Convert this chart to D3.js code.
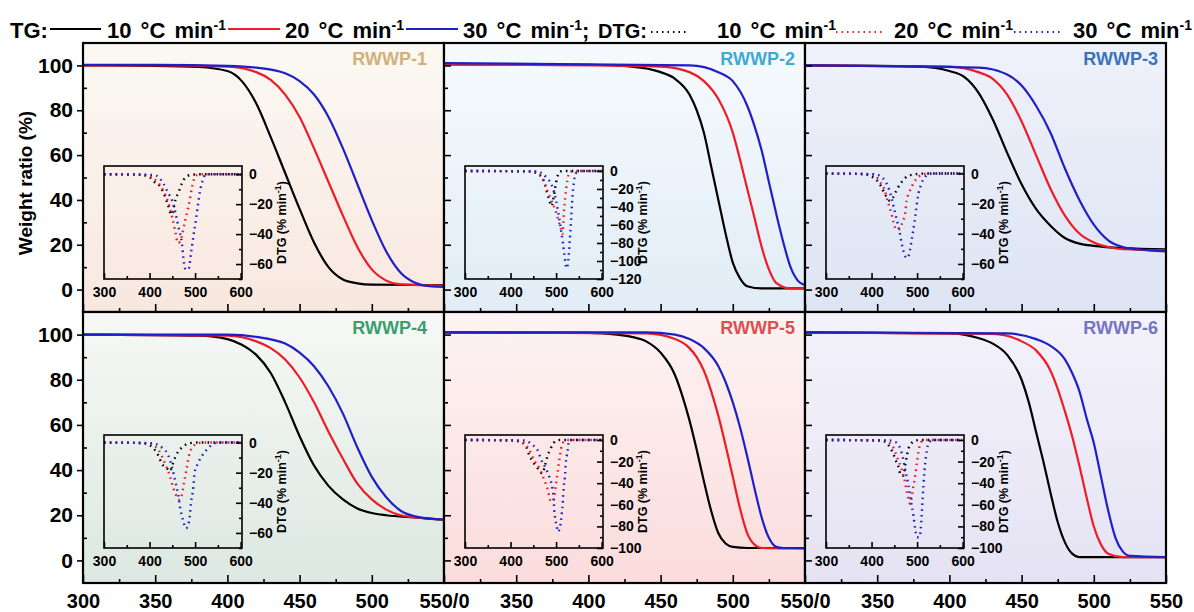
<!DOCTYPE html>
<html><head><meta charset="utf-8">
<script src="https://cdn.jsdelivr.net/npm/d3@7"></script>
<style>
body{margin:0;background:#fff}
text{font-family:"Liberation Sans",Arial,sans-serif;font-weight:bold;fill:#000}
</style></head>
<body><svg id="c" width="1194" height="612"></svg>
<script>
// ---------------- DATA ----------------
const panelNames = ["RWWP-1","RWWP-2","RWWP-3","RWWP-4","RWWP-5","RWWP-6"];
const rateLabels = ["10","20","30"];
const xTicks = [300,350,400,450,500,550];
const xMinorTicks = [325,375,425,475,525];
const yTicks = [0,20,40,60,80,100];
const yMinorTicks = [10,30,50,70,90];
const insetXTicks = [300,400,500,600];
const insetXMinor = [350,450,550];

// TG curves (temperature °C, weight %)
const tg1_10 = [[300,100],[350,99.8],[380,99.3],[400,97.5],[410,93],[420,83],[430,68],[440,52],[450,36],[460,21],[470,10],[480,4.5],[490,2.8],[500,2.2],[550,2]];
const tg1_20 = [[300,100],[350,100],[400,99.5],[420,97],[430,93.5],[440,87],[450,77],[460,63],[470,48],[480,33],[490,19],[500,9],[510,4],[520,2.3],[550,1.8]];
const tg1_30 = [[300,100.2],[350,100.2],[400,99.8],[420,99],[440,96.5],[450,93],[460,87],[470,77],[480,63],[490,47],[500,31],[510,17],[520,7.5],[530,3],[540,1.5],[550,1.2]];

const tg2_10 = [[300,100.5],[400,100.3],[430,99.5],[450,97],[460,94],[470,87],[475,80],[480,70],[485,55],[490,40],[495,25],[500,12],[505,5],[510,1.5],[520,0.5],[550,0.5]];
const tg2_20 = [[300,100.5],[450,99.5],[470,97],[480,93],[490,85],[500,70],[505,58],[510,45],[515,32],[520,19],[525,9],[530,3],[540,0.5],[550,0.5]];
const tg2_30 = [[300,101],[470,100],[490,97],[500,93],[510,82],[515,73],[520,62],[525,48],[530,34],[535,21],[540,10],[545,4],[550,2]];

const tg3_10 = [[300,100],[380,99.5],[400,97.5],[410,95],[420,88],[430,76],[440,61],[450,47],[460,36],[470,28.5],[480,23],[490,20.5],[500,19.5],[520,18.5],[550,18]];
const tg3_20 = [[300,100],[400,99.5],[420,97],[430,94],[440,87],[450,75],[460,60],[470,45],[480,33],[490,25],[500,21],[510,19],[520,18],[550,17.5]];
const tg3_30 = [[300,100],[420,99],[440,96],[450,91],[460,82],[470,70],[480,54],[490,40],[500,29],[510,22],[520,19],[530,18],[550,17]];

const tg4_10 = [[300,100],[380,99.5],[400,98],[410,95.5],[420,91],[430,83],[440,70],[450,55],[460,42],[470,33],[480,27],[490,23],[500,21],[510,20],[530,19],[550,18]];
const tg4_20 = [[300,100],[400,99.5],[420,97],[430,94],[440,89],[450,81],[460,70],[470,57],[480,45],[490,34],[500,27],[510,22.5],[520,20],[530,19],[550,18]];
const tg4_30 = [[300,100],[400,100],[420,99],[440,96],[450,92],[460,86],[470,77],[480,65],[490,50],[500,37],[510,28],[520,22],[530,19.5],[540,18.5],[550,18]];

const tg5_10 = [[300,101],[400,100.8],[420,100],[430,99],[440,97],[450,92],[460,82],[465,73],[470,62],[475,49],[480,35],[485,22],[490,12],[495,7.5],[500,6],[510,5.5],[550,5.5]];
const tg5_20 = [[300,101],[440,100.5],[460,98],[470,94],[475,90],[480,84],[485,75],[490,64],[495,51],[500,37],[505,23],[510,12],[515,7],[520,5.5],[550,5.2]];
const tg5_30 = [[300,101],[440,101],[460,100],[470,98],[480,94],[490,86],[495,79],[500,70],[505,59],[510,46],[515,32],[520,19],[525,10],[530,6],[535,5.5],[550,5.5]];

const tg6_10 = [[300,101],[400,100.5],[410,100],[420,98.5],[430,96],[440,91],[450,80],[455,70],[460,57],[465,44],[470,30],[475,17],[480,8],[485,3],[490,1.5],[550,1.5]];
const tg6_20 = [[300,101],[430,100.3],[450,97],[460,93],[470,84],[475,76],[480,66],[485,55],[490,42],[495,28],[500,15],[505,7],[510,3],[520,1.5],[550,1.5]];
const tg6_30 = [[300,101],[440,100.5],[460,98],[470,95],[480,89],[485,83],[490,75],[495,63],[500,52],[505,37],[510,22],[515,10],[520,4],[525,2],[550,1.5]];

// DTG curves (temperature °C, % min-1)
const dtg1_10 = [[300,0],[380,-0.3],[400,-2],[410,-5],[420,-7],[430,-12],[440,-20],[448,-27],[452,-24],[457,-17],[464,-12],[471,-6],[478,-2.5],[490,-0.5],[510,0],[600,0]];
const dtg1_20 = [[300,0],[390,-0.5],[410,-3],[420,-6],[430,-11],[440,-18],[450,-29],[457,-39],[462,-46],[467,-45],[471,-41],[478,-31],[482,-26],[488,-18],[493,-9],[498,-3],[505,-0.5],[520,0],[600,0]];
const dtg1_30 = [[300,0],[410,-0.5],[420,-2],[430,-6],[440,-12],[450,-18],[457,-26],[464,-36],[471,-46],[475,-58],[480,-64],[486,-63],[491,-53],[496,-42],[502,-30],[506,-21],[511,-11],[517,-4],[522,-0.5],[530,0],[600,0]];

const dtg2_10 = [[300,0],[440,-0.5],[455,-2],[465,-5],[470,-8],[475,-14],[480,-24],[485,-32],[490,-39],[495,-28],[500,-13],[505,-3],[510,-0.5],[520,0],[600,0]];
const dtg2_20 = [[300,0],[450,-0.5],[460,-2],[470,-8],[480,-21],[490,-33],[500,-46],[505,-55],[510,-63],[514,-70],[517,-47],[520,-30],[525,-10],[530,-1],[540,0],[600,0]];
const dtg2_30 = [[300,0],[460,-0.5],[470,-3],[480,-8],[490,-15],[500,-33],[505,-47],[510,-63],[515,-80],[520,-100],[523,-108],[527,-98],[530,-78],[533,-55],[536,-28],[539,-13],[543,-3],[550,0],[600,0]];

const dtg3_10 = [[300,0],[380,-0.3],[400,-2],[410,-4],[420,-8],[430,-14],[440,-18],[447,-16],[454,-11.6],[465,-6],[479,-1.8],[495,-0.5],[520,0],[600,0]];
const dtg3_20 = [[300,0],[400,-0.5],[410,-2],[417,-5],[428,-10.5],[435,-18],[443,-26],[448,-32],[454,-37],[461,-37],[468,-32],[474,-26],[477,-18],[483,-12.5],[493,-6],[504,-2],[515,-0.3],[530,0],[600,0]];
const dtg3_30 = [[300,0],[410,-0.5],[420,-2],[432,-6],[440,-12],[446,-19],[454,-29],[461,-38],[468,-49],[474,-55],[479,-56],[483,-53],[488,-44],[494,-33],[497,-26],[502,-15],[508,-8],[517,-2.6],[526,-0.3],[540,0],[600,0]];

const dtg4_10 = [[300,0],[380,-0.3],[394,-1],[409,-4],[420,-9],[427,-14],[438,-17],[445,-19],[450,-15],[456,-10],[463,-6],[474,-2.6],[488,-0.4],[510,0],[600,0]];
const dtg4_20 = [[300,0],[400,-0.5],[410,-2],[420,-5],[434,-14],[445,-22.5],[452,-30],[460,-36],[466,-38],[470,-36],[476,-26],[481,-18],[488,-7],[499,-1.6],[510,-0.2],[520,0],[600,0]];
const dtg4_30 = [[300,0],[410,-0.5],[420,-2],[430,-4],[441,-8.4],[449,-16],[456,-25],[463,-35],[467,-43],[474,-52],[480,-57],[487,-52],[491,-40],[496,-30],[499,-20],[506,-14],[517,-8],[528,-4],[543,-0.4],[560,0],[600,0]];

const dtg5_10 = [[300,0],[400,-0.3],[420,-1.5],[434,-6],[441,-14],[452,-22],[463,-28],[470,-31],[476,-23],[481,-15],[488,-8],[499,-1],[510,0],[600,0]];
const dtg5_20 = [[300,0],[410,-0.5],[420,-1],[430,-3],[441,-9],[452,-19],[463,-26],[474,-37],[481,-45],[488,-56],[494,-57],[499,-43],[503,-31],[507,-19],[512,-6],[517,-1.5],[525,0],[600,0]];
const dtg5_30 = [[300,0],[430,-0.5],[440,-2],[448,-4.6],[459,-9],[466,-17],[477,-26],[485,-34],[492,-45],[494,-51],[496,-65],[498,-73],[501,-79],[504,-85],[508,-82],[512,-70],[515,-56],[517,-43],[520,-31],[521,-23],[525,-11],[528,-1.5],[535,0],[600,0]];

const dtg6_10 = [[300,0],[420,-0.5],[431,-2],[442,-8],[449,-14],[454,-20],[460,-26],[464,-33],[470,-33],[474,-23],[478,-14],[481,-8],[492,-1.5],[505,0],[600,0]];
const dtg6_20 = [[300,0],[430,-0.5],[440,-3],[449,-8],[456,-16],[466,-27],[471,-34],[476,-45],[480,-53],[485,-59],[491,-45],[496,-33],[500,-20],[503,-11],[510,-1.5],[520,0],[600,0]];
const dtg6_30 = [[300,0],[440,-0.5],[450,-1.5],[456,-3],[464,-9],[469,-17],[474,-28],[481,-42],[487,-58],[492,-70],[496,-83],[500,-90],[505,-90],[508,-83],[510,-70],[512,-56],[514,-42],[516,-30],[519,-17],[523,-6],[528,-1.5],[535,0],[600,0]];

const insetYDomains = [[-70,5.5],[-120,5.5],[-70,5],[-70,5],[-100,4.6],[-100,4.6]];
const insetYTicks = [[0,-20,-40,-60],[0,-20,-40,-60,-80,-100,-120],[0,-20,-40,-60],[0,-20,-40,-60],[0,-20,-40,-60,-80,-100],[0,-20,-40,-60,-80,-100]];
const insetYMinor = [[-10,-30,-50,-70],[-10,-30,-50,-70,-90,-110],[-10,-30,-50,-70],[-10,-30,-50,-70],[-10,-30,-50,-70,-90],[-10,-30,-50,-70,-90]];

// ---------------- STYLE ----------------
const seriesColors = ["#000000","#ee1c25","#1f1fc8"];
const titleColors = ["#d2b07a","#3eaad4","#3a72bd","#3a9e6e","#df4f4f","#7674c6"];
const bgTop = ["#fbf9f3","#f6fafd","#eff1fa","#f7f8f6","#fdf3f3","#f3f2fa"];
const bgBot = ["#f8e7df","#e1ecf6","#dde4f3","#dce8e1","#fbdcdc","#e5e3f3"];
const titleInset = [17,10,8];

const TG = [[tg1_10,tg1_20,tg1_30],[tg2_10,tg2_20,tg2_30],[tg3_10,tg3_20,tg3_30],[tg4_10,tg4_20,tg4_30],[tg5_10,tg5_20,tg5_30],[tg6_10,tg6_20,tg6_30]];
const DTG = [[dtg1_10,dtg1_20,dtg1_30],[dtg2_10,dtg2_20,dtg2_30],[dtg3_10,dtg3_20,dtg3_30],[dtg4_10,dtg4_20,dtg4_30],[dtg5_10,dtg5_20,dtg5_30],[dtg6_10,dtg6_20,dtg6_30]];

const svg = d3.select("#c");
const colX = [83,444,805,1166];
const rowY = [43,312,583];
const defs = svg.append("defs");

function styleAxis(g, size){
  g.select(".domain").remove();
  g.selectAll("line").attr("stroke","#000").attr("stroke-width",1.6);
  g.selectAll("text").attr("font-size",size).attr("font-family",'"Liberation Sans",Arial,sans-serif').attr("font-weight","bold").attr("fill","#000");
}

panelNames.forEach((name,i)=>{
  const col = i%3, row = Math.floor(i/3);
  const x0 = colX[col], x1 = colX[col+1], y0 = rowY[row], y1 = rowY[row+1];
  const x = d3.scaleLinear().domain([300,550]).range([x0,x1]);
  const y = d3.scaleLinear().domain([-10,110]).range([y1,y0]);

  const grad = defs.append("linearGradient").attr("id","bg"+i).attr("x1",0).attr("y1",0).attr("x2",0).attr("y2",1);
  grad.append("stop").attr("offset","0%").attr("stop-color",bgTop[i]);
  grad.append("stop").attr("offset","100%").attr("stop-color",bgBot[i]);
  defs.append("clipPath").attr("id","clip"+i).append("rect").attr("x",x0).attr("y",y0).attr("width",x1-x0).attr("height",y1-y0);

  svg.append("rect").attr("x",x0).attr("y",y0).attr("width",x1-x0).attr("height",y1-y0).attr("fill",`url(#bg${i})`);

  // TG curves
  const line = d3.line().x(d=>x(d[0])).y(d=>y(d[1])).curve(d3.curveMonotoneX);
  const gl = svg.append("g").attr("clip-path",`url(#clip${i})`);
  TG[i].forEach((s,k)=>{
    gl.append("path").attr("d",line(s)).attr("fill","none").attr("stroke",seriesColors[k]).attr("stroke-width",2.2);
  });

  // bottom axis
  const fmt = v => (v===550 && col<2) ? "550/0" : (v===300 && col>0) ? "" : String(v);
  const ax = svg.append("g").attr("transform",`translate(0,${y1})`)
    .call(d3.axisBottom(x).tickValues(xTicks).tickSize(-8).tickPadding(11).tickFormat(row===1?fmt:()=>""));
  styleAxis(ax,20);
  const axm = svg.append("g").attr("transform",`translate(0,${y1})`)
    .call(d3.axisBottom(x).tickValues(xMinorTicks).tickSize(-4).tickFormat(()=>""));
  styleAxis(axm,10);

  // left axis
  if(col===0){
    const ay = svg.append("g").attr("transform",`translate(${x0},0)`)
      .call(d3.axisLeft(y).tickValues(yTicks).tickSize(6).tickPadding(4));
    styleAxis(ay,21);
    const aym = svg.append("g").attr("transform",`translate(${x0},0)`)
      .call(d3.axisLeft(y).tickValues(yMinorTicks).tickSize(-4).tickFormat(()=>""));
    styleAxis(aym,10);
  } else {
    const ay = svg.append("g").attr("transform",`translate(${x0},0)`)
      .call(d3.axisRight(y).tickValues(yTicks).tickSize(7).tickFormat(()=>""));
    styleAxis(ay,10);
    const aym = svg.append("g").attr("transform",`translate(${x0},0)`)
      .call(d3.axisRight(y).tickValues(yMinorTicks).tickSize(4).tickFormat(()=>""));
    styleAxis(aym,10);
  }

  // frame
  svg.append("rect").attr("x",x0).attr("y",y0).attr("width",x1-x0).attr("height",y1-y0)
    .attr("fill","none").attr("stroke","#000").attr("stroke-width",2.2);

  // title
  svg.append("text").attr("x",x1-titleInset[col]).attr("y",y0+22).attr("text-anchor","end")
    .attr("font-size",18).style("fill",titleColors[i]).text(name);

  // inset
  const bx0 = x0+21, bw = 138, by0 = y0+123, bh = 113;
  const ix = d3.scaleLinear().domain([300,603]).range([bx0,bx0+bw]);
  const iy = d3.scaleLinear().domain(insetYDomains[i]).range([by0+bh,by0]);
  const il = d3.line().x(d=>ix(d[0])).y(d=>iy(d[1])).curve(d3.curveMonotoneX);
  DTG[i].forEach((s,k)=>{
    svg.append("path").attr("d",il(s)).attr("fill","none").attr("stroke",seriesColors[k])
      .attr("stroke-width",2.4).attr("stroke-dasharray","1.6,4.2");
  });
  const ibx = svg.append("g").attr("transform",`translate(0,${by0+bh})`)
    .call(d3.axisBottom(ix).tickValues(insetXTicks).tickSize(-6).tickPadding(8).tickFormat(d3.format("d")));
  styleAxis(ibx,14);
  const ibxm = svg.append("g").attr("transform",`translate(0,${by0+bh})`)
    .call(d3.axisBottom(ix).tickValues(insetXMinor).tickSize(-3).tickFormat(()=>""));
  styleAxis(ibxm,10);
  const iby = svg.append("g").attr("transform",`translate(${bx0+bw},0)`)
    .call(d3.axisRight(iy).tickValues(insetYTicks[i]).tickSize(-6).tickPadding(7).tickFormat(d3.format("d")));
  styleAxis(iby,14);
  const ibym = svg.append("g").attr("transform",`translate(${bx0+bw},0)`)
    .call(d3.axisRight(iy).tickValues(insetYMinor[i]).tickSize(-3).tickFormat(()=>""));
  styleAxis(ibym,10);
  svg.append("rect").attr("x",bx0).attr("y",by0).attr("width",bw).attr("height",bh)
    .attr("fill","none").attr("stroke","#000").attr("stroke-width",1.6);
  const tt = svg.append("text").attr("transform",`translate(${bx0+bw+44},${by0+bh/2}) rotate(-90)`)
    .attr("text-anchor","middle").attr("font-size",12.5);
  tt.append("tspan").text("DTG (% min");
  tt.append("tspan").attr("dy",-5).attr("font-size",9).text("-1");
  tt.append("tspan").attr("dy",5).text(")");
});

// y-axis title
svg.append("text").attr("transform","translate(32,183) rotate(-90)").attr("text-anchor","middle")
  .attr("font-size",19).text("Weight ratio (%)");

// legend
function legText(xp, label, tail){
  const t = svg.append("text").attr("x",xp).attr("y",38).attr("font-size",22).attr("word-spacing",3);
  t.append("tspan").text(label+" °C min");
  t.append("tspan").attr("dy",-8).attr("font-size",14).text("-1");
  if(tail) t.append("tspan").attr("dy",8).text(tail);
}
svg.append("text").attr("x",10).attr("y",38).attr("font-size",22).text("TG:");
const tgLineX = [[50,101],[228,280],[406,458]];
const tgTextX = [107,285,463];
rateLabels.forEach((r,k)=>{
  svg.append("line").attr("x1",tgLineX[k][0]).attr("x2",tgLineX[k][1]).attr("y1",29).attr("y2",29)
    .attr("stroke",seriesColors[k]).attr("stroke-width",2.2);
  legText(tgTextX[k], r, k===2?";":null);
});
svg.append("text").attr("x",598).attr("y",38).attr("font-size",20).text("DTG:");
const dtgLineX = [[651,686],[836,884],[1014,1063]];
const dtgTextX = [717,894,1073];
rateLabels.forEach((r,k)=>{
  svg.append("line").attr("x1",dtgLineX[k][0]).attr("x2",dtgLineX[k][1]).attr("y1",32).attr("y2",32)
    .attr("stroke",seriesColors[k]).attr("stroke-width",2).attr("stroke-dasharray","1.5,4");
  legText(dtgTextX[k], r, null);
});
</script></body></html>
